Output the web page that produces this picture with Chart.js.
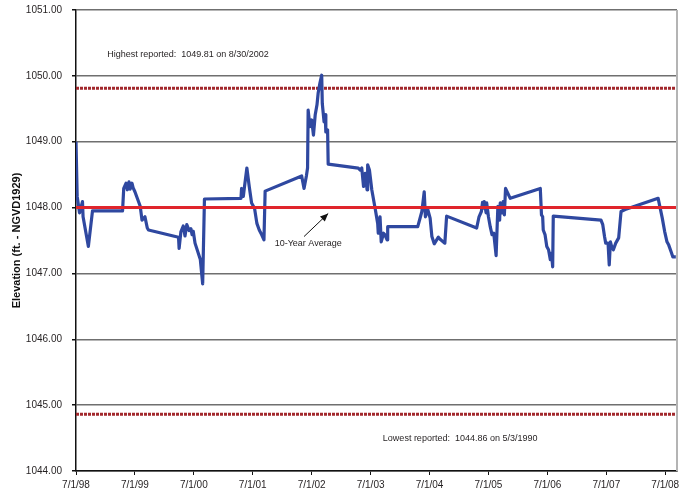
<!DOCTYPE html>
<html>
<head>
<meta charset="utf-8">
<script src="https://cdn.jsdelivr.net/npm/chart.js@4/dist/chart.umd.min.js"></script>
<style>
  html, body { margin: 0; padding: 0; background: #fff; overflow: hidden; }
  #wrap { width: 690px; height: 488px; }
</style>
</head>
<body>
<div id="wrap"><canvas id="c" width="690" height="488"></canvas></div>
<script>
// Lake elevation record, decimal years (7/1/98 = 1998.5)
const obsYears = [
  1998.50, 1998.52, 1998.56, 1998.61, 1998.62, 1998.71, 1998.78, 1999.29, 1999.31, 1999.35,
  1999.37, 1999.40, 1999.42, 1999.45, 1999.47, 1999.50, 1999.59, 1999.62, 1999.67, 1999.71,
  1999.73, 2000.24, 2000.25, 2000.28, 2000.32, 2000.35, 2000.38, 2000.42, 2000.45, 2000.47,
  2000.49, 2000.52, 2000.61, 2000.65, 2000.68, 2001.30, 2001.31, 2001.34, 2001.36, 2001.40,
  2001.44, 2001.48, 2001.53, 2001.57, 2001.61, 2001.65, 2001.69, 2001.71, 2002.33, 2002.37,
  2002.41, 2002.43, 2002.44, 2002.47, 2002.50, 2002.53, 2002.56, 2002.59, 2002.61, 2002.64,
  2002.67, 2002.68, 2002.71, 2002.73, 2002.74, 2002.77, 2002.78, 2003.29, 2003.32, 2003.35,
  2003.38, 2003.41, 2003.44, 2003.45, 2003.48, 2003.52, 2003.58, 2003.62, 2003.63, 2003.66,
  2003.68, 2003.72, 2003.74, 2003.78, 2003.79, 2004.30, 2004.37, 2004.41, 2004.43, 2004.47,
  2004.51, 2004.54, 2004.58, 2004.65, 2004.69, 2004.76, 2004.79, 2005.30, 2005.34, 2005.38,
  2005.40, 2005.42, 2005.43, 2005.46, 2005.47, 2005.50, 2005.53, 2005.56, 2005.59, 2005.63,
  2005.66, 2005.69, 2005.70, 2005.73, 2005.75, 2005.77, 2005.79, 2005.87, 2006.38, 2006.40,
  2006.42, 2006.43, 2006.46, 2006.49, 2006.52, 2006.55, 2006.57, 2006.59, 2006.60, 2007.41,
  2007.44, 2007.47, 2007.49, 2007.53, 2007.55, 2007.57, 2007.59, 2007.62, 2007.66, 2007.71,
  2007.75, 2007.82, 2008.38, 2008.42, 2008.45, 2008.49, 2008.53, 2008.56, 2008.60, 2008.63,
  2008.68
];
const obsElev = [
  1049.00, 1048.17, 1047.92, 1048.09, 1047.86, 1047.41, 1047.95, 1047.95, 1048.29, 1048.37,
  1048.27, 1048.39, 1048.28, 1048.37, 1048.30, 1048.24, 1048.02, 1047.81, 1047.86, 1047.69,
  1047.66, 1047.55, 1047.38, 1047.63, 1047.72, 1047.57, 1047.74, 1047.65, 1047.68, 1047.59,
  1047.64, 1047.46, 1047.21, 1046.84, 1048.13, 1048.14, 1048.29, 1048.17, 1048.32, 1048.60,
  1048.32, 1048.07, 1047.99, 1047.76, 1047.66, 1047.59, 1047.51, 1048.25, 1048.48, 1048.29,
  1048.48, 1048.60, 1049.48, 1049.23, 1049.33, 1049.10, 1049.41, 1049.56, 1049.74, 1049.89,
  1050.01, 1049.58, 1049.30, 1049.41, 1049.15, 1049.18, 1048.66, 1048.60, 1048.57, 1048.60,
  1048.32, 1048.52, 1048.27, 1048.65, 1048.57, 1048.27, 1047.97, 1047.76, 1047.61, 1047.86,
  1047.48, 1047.61, 1047.59, 1047.51, 1047.71, 1047.71, 1047.94, 1048.24, 1047.86, 1047.97,
  1047.84, 1047.56, 1047.45, 1047.55, 1047.51, 1047.46, 1047.87, 1047.69, 1047.86, 1047.94,
  1048.08, 1047.99, 1048.09, 1047.92, 1048.07, 1047.86, 1047.71, 1047.59, 1047.61, 1047.27,
  1048.02, 1047.81, 1048.07, 1047.92, 1048.09, 1047.89, 1048.29, 1048.14, 1048.29, 1047.89,
  1047.86, 1047.66, 1047.59, 1047.41, 1047.36, 1047.21, 1047.31, 1047.10, 1047.87, 1047.81,
  1047.74, 1047.56, 1047.46, 1047.46, 1047.13, 1047.48, 1047.41, 1047.36, 1047.46, 1047.54,
  1047.94, 1047.97, 1048.14, 1047.97, 1047.84, 1047.64, 1047.48, 1047.43, 1047.33, 1047.25,
  1047.25
];

// Reference levels
const tenYearAverage = 1048.00;
const highestReported = 1049.81;
const lowestReported = 1044.86;

// Axis ticks
const xTickYears = [1998.5, 1999.5, 2000.5, 2001.5, 2002.5, 2003.5, 2004.5, 2005.5, 2006.5, 2007.5, 2008.5];
const xTickLabels = ['7/1/98', '7/1/99', '7/1/00', '7/1/01', '7/1/02', '7/1/03', '7/1/04', '7/1/05', '7/1/06', '7/1/07', '7/1/08'];
const yTicks = [1044, 1045, 1046, 1047, 1048, 1049, 1050, 1051];
const xMin = 1998.5, xMax = 2008.70;

const elevPoints = obsYears.map((t, i) => ({ x: t, y: obsElev[i] }));
const flat = v => [{ x: xMin, y: v }, { x: xMax, y: v }];

const notePlugin = {
  id: 'notes',
  afterDatasetsDraw(chart) {
    const { ctx, chartArea: a, scales: { x, y } } = chart;
    ctx.save();
    // right frame edge
    ctx.strokeStyle = '#b4b4b4';
    ctx.lineWidth = 2;
    ctx.beginPath();
    ctx.moveTo(a.right, a.top);
    ctx.lineTo(a.right, a.bottom);
    ctx.stroke();

    ctx.fillStyle = '#231f20';
    ctx.font = '9px "Liberation Sans", Arial, sans-serif';
    ctx.textBaseline = 'middle';
    ctx.textAlign = 'left';
    ctx.fillText('Highest reported:  1049.81 on 8/30/2002', x.getPixelForValue(1999.03), y.getPixelForValue(1050.33));
    ctx.textAlign = 'center';
    ctx.fillText('Lowest reported:  1044.86 on 5/3/1990', x.getPixelForValue(2005.02), y.getPixelForValue(1044.49));
    ctx.fillText('10-Year Average', x.getPixelForValue(2002.44), y.getPixelForValue(1047.45));

    // arrow pointing to the average line
    const x0 = x.getPixelForValue(2002.37), y0 = y.getPixelForValue(1047.56);
    const x1 = x.getPixelForValue(2002.78), y1 = y.getPixelForValue(1047.91);
    ctx.strokeStyle = '#111';
    ctx.lineWidth = 1;
    ctx.beginPath();
    ctx.moveTo(x0, y0);
    ctx.lineTo(x1, y1);
    ctx.stroke();
    const ang = Math.atan2(y1 - y0, x1 - x0);
    const L = 8, W = 3.5;
    ctx.beginPath();
    ctx.moveTo(x1, y1);
    ctx.lineTo(x1 - L * Math.cos(ang) + W * Math.sin(ang), y1 - L * Math.sin(ang) - W * Math.cos(ang));
    ctx.lineTo(x1 - L * Math.cos(ang) - W * Math.sin(ang), y1 - L * Math.sin(ang) + W * Math.cos(ang));
    ctx.closePath();
    ctx.fillStyle = '#111';
    ctx.fill();
    ctx.restore();
  }
};

new Chart(document.getElementById('c'), {
  type: 'line',
  data: {
    datasets: [
      { data: flat(tenYearAverage), borderColor: '#e0252c', borderWidth: 3, pointRadius: 0, order: 0 },
      { data: elevPoints, borderColor: '#2f48a0', borderWidth: 3.2, pointRadius: 0, tension: 0, borderJoinStyle: 'round', order: 1 },
      { data: flat(highestReported), borderColor: '#a2282c', borderWidth: 3, borderDash: [3, 1], pointRadius: 0, order: 2 },
      { data: flat(lowestReported), borderColor: '#a2282c', borderWidth: 3, borderDash: [3, 1], pointRadius: 0, order: 2 }
    ]
  },
  options: {
    responsive: false,
    animation: false,
    events: [],
    layout: { padding: { top: 10, right: 13, left: 0, bottom: 0 } },
    plugins: { legend: { display: false }, tooltip: { enabled: false } },
    scales: {
      x: {
        type: 'linear',
        min: xMin,
        max: xMax,
        afterBuildTicks: s => { s.ticks = xTickYears.map(v => ({ value: v })); },
        afterFit: s => { s.height = 17; },
        grid: { display: true, drawOnChartArea: false, drawTicks: true, tickLength: 4, tickColor: '#111', lineWidth: 1 },
        border: { color: '#111', width: 1.5 },
        ticks: {
          autoSkip: false, maxRotation: 0, minRotation: 0, padding: 4,
          color: '#231f20',
          font: { family: '"Liberation Sans", Arial, sans-serif', size: 10 },
          callback: v => { const i = xTickYears.indexOf(v); return i >= 0 ? xTickLabels[i] : ''; }
        }
      },
      y: {
        min: 1044,
        max: 1051,
        afterBuildTicks: s => { s.ticks = yTicks.map(v => ({ value: v })); },
        afterFit: s => { s.width = 76; s.paddingTop = 0; s.paddingBottom = 0; },
        grid: { color: '#6f6f6f', lineWidth: 1.5, tickLength: 4, tickColor: '#111' },
        border: { color: '#111', width: 1.5 },
        ticks: {
          padding: 10,
          color: '#231f20',
          font: { family: '"Liberation Sans", Arial, sans-serif', size: 10 },
          callback: v => Number(v).toFixed(2)
        },
        title: {
          display: true,
          text: 'Elevation (ft. - NGVD1929)',
          color: '#111',
          font: { family: '"Liberation Sans", Arial, sans-serif', size: 11, weight: 'bold' },
          padding: { top: 10, bottom: 0 }
        }
      }
    }
  },
  plugins: [notePlugin]
});
</script>
</body>
</html>
